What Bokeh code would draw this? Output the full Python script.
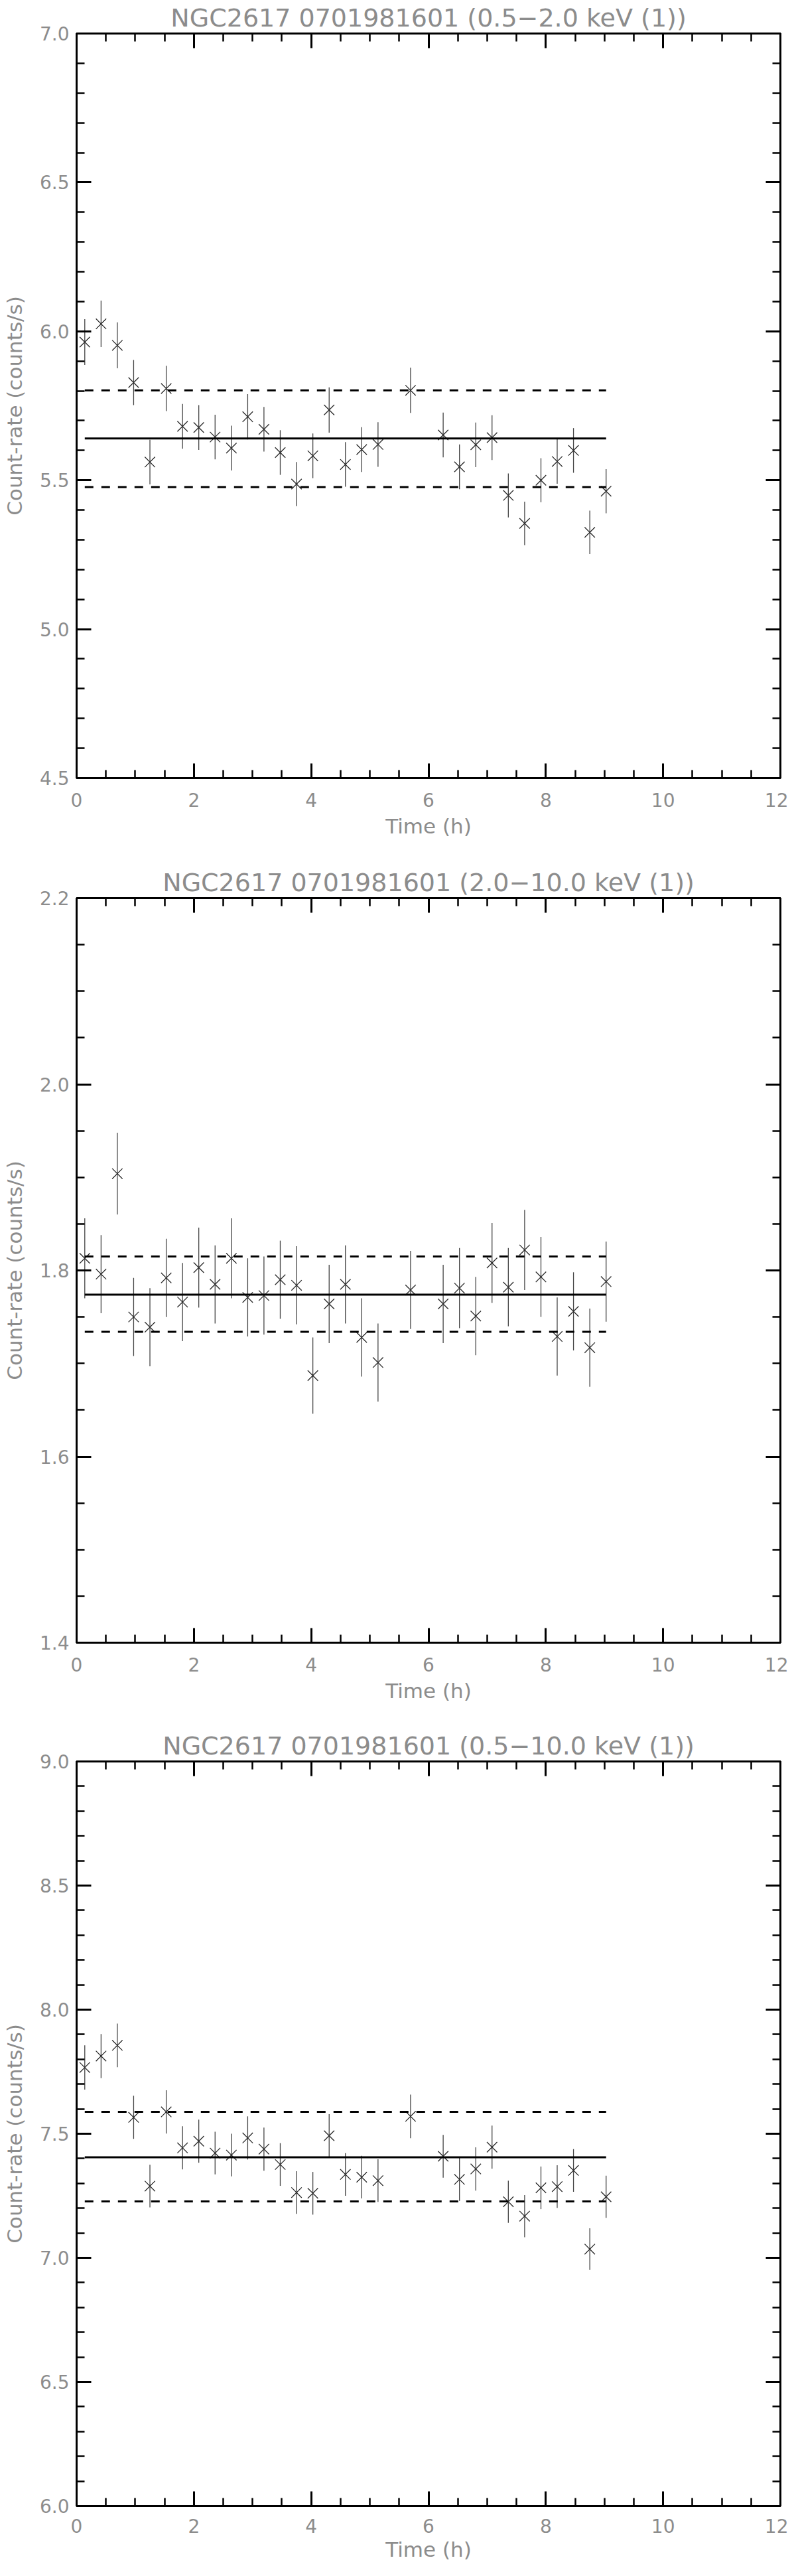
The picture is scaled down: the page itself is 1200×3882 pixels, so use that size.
import numpy as np
from bokeh.plotting import figure
from bokeh.layouts import column
from bokeh.models import LinearAxis, FixedTicker, Range1d, PrintfTickFormatter
from bokeh.embed import file_html
from bokeh.resources import INLINE

# ---- data ----
time_h = [0.139, 0.417, 0.694, 0.972, 1.250, 1.528, 1.806, 2.083, 2.361, 2.639,
          2.917, 3.194, 3.472, 3.750, 4.028, 4.306, 4.583, 4.861, 5.139, 5.694,
          6.250, 6.528, 6.806, 7.083, 7.361, 7.639, 7.917, 8.194, 8.472, 8.750, 9.028]

rate_soft = [5.964, 6.025, 5.953, 5.828, 5.561, 5.808, 5.681, 5.677, 5.645, 5.608,
             5.713, 5.671, 5.593, 5.487, 5.582, 5.736, 5.553, 5.603, 5.620, 5.802,
             5.652, 5.545, 5.619, 5.643, 5.449, 5.355, 5.500, 5.563, 5.600, 5.325, 5.463]
err_soft = [0.077, 0.078, 0.077, 0.076, 0.075, 0.076, 0.075, 0.075, 0.075, 0.075,
            0.076, 0.075, 0.075, 0.074, 0.075, 0.076, 0.075, 0.075, 0.075, 0.076,
            0.075, 0.075, 0.075, 0.075, 0.074, 0.073, 0.074, 0.075, 0.075, 0.073, 0.074]
mean_soft, hi_soft, lo_soft = 5.640, 5.802, 5.477

rate_hard = [1.813, 1.796, 1.904, 1.750, 1.739, 1.792, 1.766, 1.803, 1.785, 1.813,
             1.771, 1.773, 1.790, 1.784, 1.687, 1.764, 1.785, 1.728, 1.701, 1.779,
             1.764, 1.781, 1.751, 1.808, 1.782, 1.822, 1.793, 1.729, 1.756, 1.717, 1.788]
err_hard = [0.043, 0.042, 0.044, 0.042, 0.042, 0.042, 0.042, 0.043, 0.042, 0.043,
            0.042, 0.042, 0.042, 0.042, 0.041, 0.042, 0.042, 0.042, 0.042, 0.042,
            0.042, 0.043, 0.042, 0.043, 0.042, 0.043, 0.043, 0.042, 0.042, 0.042, 0.043]
mean_hard, hi_hard, lo_hard = 1.774, 1.815, 1.734

rate_full = [7.767, 7.813, 7.856, 7.566, 7.289, 7.588, 7.443, 7.470, 7.422, 7.414,
             7.483, 7.438, 7.376, 7.263, 7.260, 7.492, 7.336, 7.325, 7.311, 7.570,
             7.409, 7.316, 7.358, 7.446, 7.226, 7.168, 7.282, 7.287, 7.352, 7.035, 7.246]
err_full = [0.089, 0.089, 0.088, 0.087, 0.086, 0.087, 0.087, 0.087, 0.086, 0.086,
            0.087, 0.087, 0.086, 0.086, 0.086, 0.087, 0.086, 0.086, 0.086, 0.088,
            0.086, 0.087, 0.087, 0.087, 0.085, 0.085, 0.086, 0.086, 0.086, 0.084, 0.085]
mean_full, hi_full, lo_full = 7.405, 7.588, 7.227

x_major = [0, 2, 4, 6, 8, 10, 12]
titles = ["NGC2617 0701981601 (0.5\u22122.0 keV (1))",
          "NGC2617 0701981601 (2.0\u221210.0 keV (1))",
          "NGC2617 0701981601 (0.5\u221210.0 keV (1))"]

FONT = "DejaVu Sans"
TXT = "#8c8c8c"


def base_axis(ax):
    ax.axis_line_width = 3
    ax.axis_line_color = "black"
    ax.major_tick_line_width = 3
    ax.minor_tick_line_width = 2.5
    ax.major_tick_line_color = "black"
    ax.minor_tick_line_color = "black"
    ax.major_tick_in = 22
    ax.major_tick_out = 0
    ax.minor_tick_in = 12
    ax.minor_tick_out = 0
    ax.major_label_text_font = FONT
    ax.major_label_text_color = TXT
    ax.major_label_text_font_size = "28px"
    ax.axis_label_text_font = FONT
    ax.axis_label_text_color = TXT
    ax.axis_label_text_font_style = "normal"
    ax.axis_label_text_font_size = "31px"


def mirror_axes(p, side, major, minor):
    # tick-only axes on the opposite sides: no major ticks -> no labels
    for positions, length in ((minor, 12), (major, 22)):
        ax = LinearAxis(ticker=FixedTicker(ticks=[], minor_ticks=list(positions)))
        ax.axis_line_width = 3
        ax.axis_line_color = "black"
        ax.minor_tick_line_width = 2.5 if length == 12 else 3
        ax.minor_tick_line_color = "black"
        ax.minor_tick_in = length
        ax.minor_tick_out = 0
        ax.major_tick_in = 0
        ax.major_tick_out = 0
        ax.major_label_standoff = 0
        ax.axis_label_standoff = 0
        p.add_layout(ax, side)


def make_panel(title, rates, errs, mean, hi, lo, yr, ymaj, ystep, bottom, tick_sd, lab_sd):
    p = figure(frame_width=1061, frame_height=1122,
               x_range=Range1d(0, 12), y_range=Range1d(*yr),
               output_backend="svg", toolbar_location=None,
               min_border_left=111, min_border_right=12,
               min_border_top=49, min_border_bottom=bottom,
               x_axis_label="Time (h)", y_axis_label="Count-rate (counts/s)")
    p.grid.visible = False
    p.outline_line_color = "black"
    p.outline_line_width = 3
    p.background_fill_color = "white"
    p.border_fill_color = "white"

    x_minor = list(np.arange(0, 12.01, 0.5))
    y_minor = list(np.arange(yr[0], yr[1] + 1e-9, ystep))

    xa = p.xaxis[0]
    ya = p.yaxis[0]
    base_axis(xa)
    base_axis(ya)
    xa.ticker = FixedTicker(ticks=x_major, minor_ticks=x_minor)
    ya.ticker = FixedTicker(ticks=ymaj, minor_ticks=y_minor)
    xa.formatter = PrintfTickFormatter(format="%d")
    ya.formatter = PrintfTickFormatter(format="%.1f")
    xa.major_label_standoff = tick_sd
    xa.axis_label_standoff = lab_sd
    ya.major_label_standoff = 11
    ya.axis_label_standoff = 17

    mirror_axes(p, "above", x_major, x_minor)
    mirror_axes(p, "right", ymaj, y_minor)

    p.title.text = title
    p.title.align = "center"
    p.title.text_font = FONT
    p.title.text_font_size = "38px"
    p.title.text_font_style = "normal"
    p.title.text_color = TXT
    p.title.standoff = 4
    p.title.text_line_height = 1.0

    lower = [r - e for r, e in zip(rates, errs)]
    upper = [r + e for r, e in zip(rates, errs)]
    p.segment(x0=time_h, y0=lower, x1=time_h, y1=upper, line_color="#444444", line_width=1.3)
    p.scatter(x=time_h, y=rates, marker="x", size=22, line_color="#2a2a2a", line_width=1.3)

    xs = [time_h[0], time_h[-1]]
    p.line(xs, [mean, mean], line_color="black", line_width=3)
    p.line(xs, [hi, hi], line_color="black", line_width=3, line_dash="13 12")
    p.line(xs, [lo, lo], line_color="black", line_width=3, line_dash="13 12")
    return p


p1 = make_panel(titles[0], rate_soft, err_soft, mean_soft, hi_soft, lo_soft,
                (4.5, 7.0), [4.5, 5.0, 5.5, 6.0, 6.5, 7.0], 0.1, 131, 22, 8)
p2 = make_panel(titles[1], rate_hard, err_hard, mean_hard, hi_hard, lo_hard,
                (1.4, 2.2), [1.4, 1.6, 1.8, 2.0, 2.2], 0.05, 129, 22, 8)
p3 = make_panel(titles[2], rate_full, err_full, mean_full, hi_full, lo_full,
                (6.0, 9.0), [6.0, 6.5, 7.0, 7.5, 8.0, 8.5, 9.0], 0.1, 90, 19, 4)

layout = column(p1, p2, p3, spacing=0)
open("out.html", "w").write(file_html(layout, INLINE))
